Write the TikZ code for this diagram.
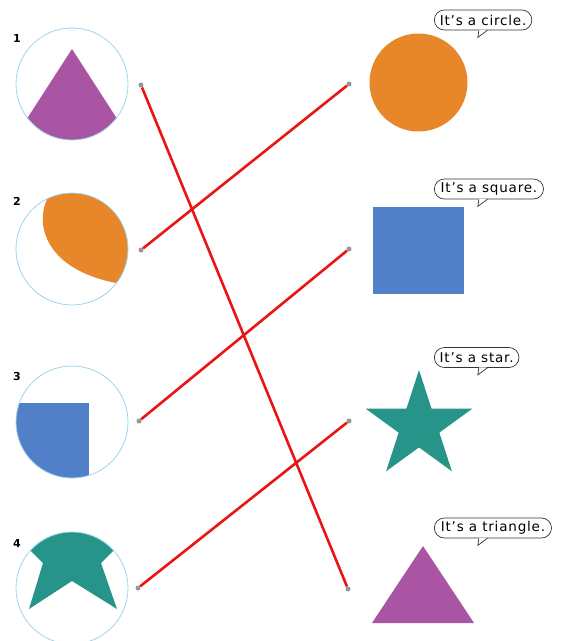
\documentclass[tikz,border=0pt]{standalone}
\usepackage{fontspec}
\setmainfont{DejaVu Sans}
\usetikzlibrary{shapes.geometric,shapes.misc,calc}
\definecolor{shpurple}{RGB}{170,84,164}
\definecolor{shorange}{RGB}{232,134,42}
\definecolor{shblue}{RGB}{82,128,200}
\definecolor{shteal}{RGB}{38,148,136}
\definecolor{ringblue}{RGB}{160,212,232}
\definecolor{linered}{RGB}{235,20,20}
\definecolor{dotgray}{RGB}{150,150,150}
\newfontfamily\bubblefont[LetterSpace=6]{DejaVu Sans}
\begin{document}
\begin{tikzpicture}[x=1pt,y=-1pt,
  ring/.style={circle,draw=ringblue,line width=0.8pt,minimum size=112pt,inner sep=0pt},
  numlab/.style={font=\bfseries\fontsize{11}{12}\selectfont,inner sep=0pt},
  dotnode/.style={circle,fill=dotgray,minimum size=5pt,inner sep=0pt},
  redline/.style={linered,line width=2.6pt},
  bubble/.style={rounded rectangle,draw=black!80,line width=0.7pt,minimum height=20pt,inner xsep=4pt,inner ysep=0pt,anchor=west,font=\bubblefont\fontsize{13.5}{14}\selectfont},
  tail/.style={draw=black!80,line width=0.7pt}]
\useasboundingbox (0,0) rectangle (563,641);

% left shapes
\begin{scope}
  \clip (72,84) circle (56);
  \fill[shpurple] (72,49) -- (10,145) -- (134,145) -- cycle;
\end{scope}
\begin{scope}
  \clip (72,249) circle (56);
  \fill[shorange] (50,194) .. controls (34,218) and (40,268) .. (116,283) -- (140,300) -- (140,180) -- (50,180) -- cycle;
\end{scope}
\begin{scope}
  \clip (72,422) circle (56);
  \fill[shblue] (10,403) rectangle (89,490);
\end{scope}
\begin{scope}
  \clip (72,588) circle (56);
  \fill[shteal] (20,540) -- (43,563) -- (29,609) -- (72,581) -- (117,609) -- (101,563) -- (124,540) -- (124,520) -- (20,520) -- cycle;
\end{scope}

\node[ring] (c1) at (72,84) {};
\node[ring] (c2) at (72,249) {};
\node[ring] (c3) at (72,422) {};
\node[ring] (c4) at (72,588) {};

\node[numlab] (n1) at (17,38) {1};
\node[numlab] (n2) at (17,201) {2};
\node[numlab] (n3) at (17,376) {3};
\node[numlab] (n4) at (17,543) {4};

% right shapes
\node[circle,fill=shorange,minimum size=98pt,inner sep=0pt] (rcircle) at (418.5,82.5) {};
\fill[shblue] (373,207) rectangle (464,294);
\node[star,star points=5,star point ratio=2.618,fill=shteal,minimum size=112pt,inner sep=0pt] (rstar) at (419,426) {};
\fill[shpurple] (423,546) -- (372,623) -- (474,623) -- cycle;

% bubbles
\foreach \name/\y/\txt in {b1/20/{It’s a circle.},b2/189/{It’s a square.},b3/357.5/{It’s a star.},b4/528/{It’s a triangle.}}{
  \node[bubble,fill=white] (\name) at (434,\y) {\txt};
  \fill[white] ($(\name.south west)+(34.5,-0.6)$) -- ($(\name.south west)+(33.5,6)$) -- ($(\name.south west)+(42.5,-0.6)$) -- cycle;
  \draw[tail] ($(\name.south west)+(34.5,0)$) -- ($(\name.south west)+(33.5,7)$) -- ($(\name.south west)+(43,0)$);
}

% dots
\node[dotnode] (l1) at (141,85) {};
\node[dotnode] (l2) at (141,250) {};
\node[dotnode] (l3) at (139,421) {};
\node[dotnode] (l4) at (138,588) {};
\node[dotnode] (r1) at (349,84) {};
\node[dotnode] (r2) at (349,249) {};
\node[dotnode] (r3) at (349,421) {};
\node[dotnode] (r4) at (348,589) {};

\draw[redline] (l1) -- (r4);
\draw[redline] (l2) -- (r1);
\draw[redline] (l3) -- (r2);
\draw[redline] (l4) -- (r3);
\end{tikzpicture}
\end{document}
